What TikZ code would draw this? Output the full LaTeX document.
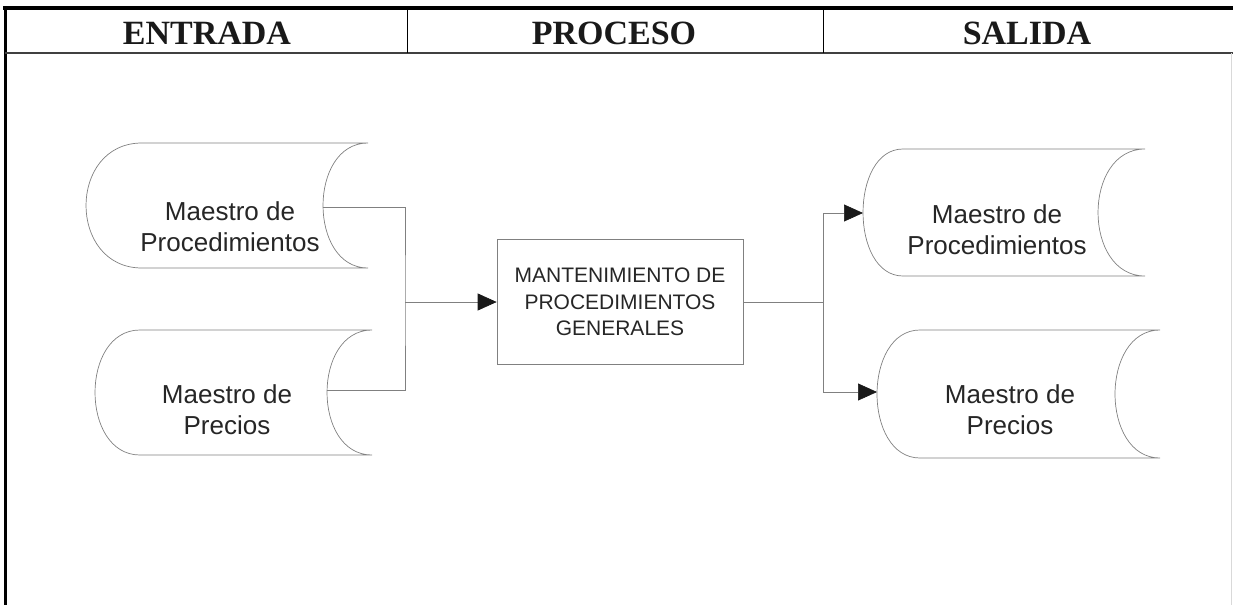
\documentclass[tikz,border=0pt]{standalone}
\usepackage{fontspec}
\setmainfont{Liberation Sans}
\newfontfamily\cabecera{Liberation Serif}
\usetikzlibrary{arrows.meta}
% almacen: punta izq., arriba, derecha, abajo, arco izq., arco der.
\newcommand{\almacen}[6]{%
  \draw[borde] (#1+#5,#2) -- (#3,#2)
    .. controls (#3-1.333*#6,#2) and (#3-1.333*#6,#4) .. (#3,#4)
    -- (#1+#5,#4)
    .. controls (#1-0.333*#5,#4) and (#1-0.333*#5,#2) .. cycle;}

\begin{document}
\begin{tikzpicture}[x=1pt,y=-1pt,
  borde/.style={draw=black!50,line width=0.7pt},
  flecha/.style={draw=black!50,line width=0.7pt,-{Triangle[length=19pt,width=17pt,color=black!90]}},
  titulo/.style={font=\cabecera\bfseries\fontsize{34}{36}\selectfont,text=black!90},
  texto/.style={align=center,font=\fontsize{26}{31}\selectfont,text=black!85},
  proceso/.style={draw=black!50,line width=0.7pt,minimum width=246pt,minimum height=125pt,
    align=center,font=\fontsize{21}{26.5}\selectfont,text=black!85}]
  \useasboundingbox (0,0) rectangle (1233,605);

  % marco y cabecera
  \draw[line width=4.5pt] (3,8) -- (1233,8);
  \draw[line width=3pt] (5,6) -- (5,605);
  \draw[black!75,line width=1.8pt] (5,53) -- (1233,53);
  \draw[line width=0.8pt] (407,10) -- (407,53);
  \draw[line width=0.8pt] (823,10) -- (823,53);
  \draw[black!15,line width=0.6pt] (1231,53) -- (1231,605);

  \node[titulo] (ent) at (207,33) {ENTRADA};
  \node[titulo] (pro) at (614,33) {PROCESO};
  \node[titulo] (sal) at (1027,33) {SALIDA};

  % entradas
  \almacen{86}{143}{368}{268}{56}{45}
  \almacen{95}{330}{372}{455}{45}{45}
  \node[texto] (mp1) at (230,227) {Maestro de\\Procedimientos};
  \node[texto] (pr1) at (227,410) {Maestro de\\Precios};
  \coordinate (mp1-s) at (323,207);
  \coordinate (pr1-s) at (327,390);
  \coordinate (une) at (405,302);

  % proceso
  \node[proceso] (mant) at (620,302) {MANTENIMIENTO DE\\PROCEDIMIENTOS\\GENERALES};

  % salidas
  \almacen{863}{149}{1145}{276}{40}{47}
  \almacen{877}{330}{1160}{458}{43}{45}
  \node[texto] (mp2) at (997,230) {Maestro de\\Procedimientos};
  \node[texto] (pr2) at (1010,410) {Maestro de\\Precios};
  \coordinate (mp2-e) at (863,213);
  \coordinate (pr2-e) at (877,392);
  \coordinate (parte) at (823,302);

  % conectores
  \draw[borde] (mp1-s) -| (une) |- (pr1-s);
  \draw[flecha] (une) -- (mant.west);
  \draw[borde] (mant.east) -- (parte);
  \draw[flecha] (parte) |- (mp2-e);
  \draw[flecha] (parte) |- (pr2-e);
\end{tikzpicture}
\end{document}
